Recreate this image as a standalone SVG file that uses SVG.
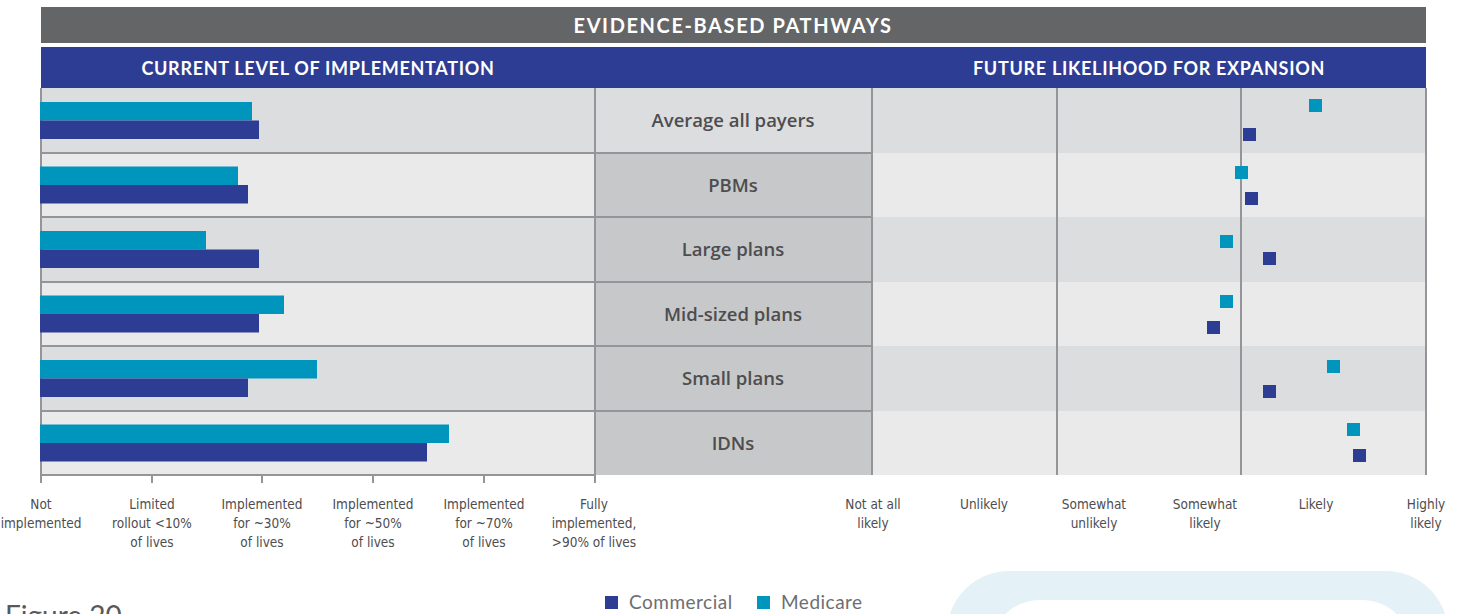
<svg xmlns="http://www.w3.org/2000/svg" width="1462" height="614" viewBox="0 0 1462 614">
<style>
.hdr{font-family:Lato,"Open Sans","Liberation Sans",sans-serif;font-weight:700;fill:#ffffff;text-anchor:middle}
.cat{font-family:"Open Sans",Lato,"Liberation Sans",sans-serif;font-weight:600;font-size:18.5px;fill:#4d4d4f;text-anchor:middle}
.ax{font-family:"DejaVu Sans Condensed","Liberation Sans Narrow","DejaVu Sans",sans-serif;font-size:13.5px;fill:#4d4d4f;text-anchor:middle}
.leg{font-family:Lato,"Open Sans","Liberation Sans",sans-serif;font-size:19px;letter-spacing:0.5px;fill:#6d6e71}
.dark{fill:#dcdddf}
.light{fill:#eaeaea}
.midc{fill:#c7c8ca}
.grid{stroke:#939598;stroke-width:2;fill:none}
.com{fill:#2e3d94}
.med{fill:#0095bd}
</style>
<g id="decor">
<path fill="#e4f1f6" fill-rule="evenodd" d="M1009 571 H1386 A62 62 0 0 1 1448 633 V700 H947 V633 A62 62 0 0 1 1009 571 Z M1040 600 H1362 A50 50 0 0 1 1412 650 V700 H990 V650 A50 50 0 0 1 1040 600 Z"/>
</g>
<g id="title">
<rect x="41" y="7" width="1385" height="36" fill="#646567"/>
<text class="hdr" x="733" y="33" font-size="20" letter-spacing="1.6">EVIDENCE-BASED PATHWAYS</text>
</g>
<g id="subheaders">
<rect x="41" y="47" width="1385" height="41" fill="#2e3d94"/>
<text class="hdr" x="318" y="75" font-size="18" letter-spacing="0.7">CURRENT LEVEL OF IMPLEMENTATION</text>
<text class="hdr" x="1149" y="75" font-size="18" letter-spacing="0.7">FUTURE LIKELIHOOD FOR EXPANSION</text>
</g>
<g id="backgrounds">
<rect class="dark" x="41" y="88" width="554" height="65"/>
<rect class="light" x="41" y="153" width="554" height="64"/>
<rect class="dark" x="41" y="217" width="554" height="65"/>
<rect class="light" x="41" y="282" width="554" height="64"/>
<rect class="dark" x="41" y="346" width="554" height="65"/>
<rect class="light" x="41" y="411" width="554" height="64"/>
<rect class="dark" x="595" y="88" width="277" height="65"/>
<rect class="midc" x="595" y="153" width="277" height="322"/>
<rect class="dark" x="872" y="88" width="554" height="65"/>
<rect class="light" x="872" y="153" width="554" height="64"/>
<rect class="dark" x="872" y="217" width="554" height="65"/>
<rect class="light" x="872" y="282" width="554" height="64"/>
<rect class="dark" x="872" y="346" width="554" height="65"/>
<rect class="light" x="872" y="411" width="554" height="64"/>
</g>
<g id="connectors">
<path class="grid" d="M41 88 V483 M152 475 V483 M262 475 V483 M373 475 V483 M484 475 V483 M595 88 V483 M41 475 H595"/>
<path class="grid" d="M41 153 H872 M41 217 H872 M41 282 H872 M41 346 H872 M41 411 H872"/>
<path class="grid" d="M872 88 V475 M1057 88 V475 M1241 88 V475 M1426 88 V475"/>
</g>
<g id="row-average">
<rect class="med" x="40" y="102" width="212" height="18.5"/>
<rect class="com" x="40" y="120.5" width="219" height="18.5"/>
<text class="cat" x="733" y="127">Average all payers</text>
<rect class="med" x="1309" y="99" width="13" height="13"/>
<rect class="com" x="1243" y="128" width="13" height="13"/>
</g>
<g id="row-pbms">
<rect class="med" x="40" y="166.5" width="198" height="18.5"/>
<rect class="com" x="40" y="185" width="208" height="18.5"/>
<text class="cat" x="733" y="192">PBMs</text>
<rect class="med" x="1235" y="166" width="13" height="13"/>
<rect class="com" x="1245" y="192" width="13" height="13"/>
</g>
<g id="row-large">
<rect class="med" x="40" y="231" width="166" height="18.5"/>
<rect class="com" x="40" y="249.5" width="219" height="18.5"/>
<text class="cat" x="733" y="256">Large plans</text>
<rect class="med" x="1220" y="235" width="13" height="13"/>
<rect class="com" x="1263" y="252" width="13" height="13"/>
</g>
<g id="row-mid">
<rect class="med" x="40" y="295.5" width="244" height="18.5"/>
<rect class="com" x="40" y="314" width="219" height="18.5"/>
<text class="cat" x="733" y="321">Mid-sized plans</text>
<rect class="med" x="1220" y="295" width="13" height="13"/>
<rect class="com" x="1207" y="321" width="13" height="13"/>
</g>
<g id="row-small">
<rect class="med" x="40" y="360" width="277" height="18.5"/>
<rect class="com" x="40" y="378.5" width="208" height="18.5"/>
<text class="cat" x="733" y="385">Small plans</text>
<rect class="med" x="1327" y="360" width="13" height="13"/>
<rect class="com" x="1263" y="385" width="13" height="13"/>
</g>
<g id="row-idns">
<rect class="med" x="40" y="424.5" width="409" height="18.5"/>
<rect class="com" x="40" y="443" width="387" height="18.5"/>
<text class="cat" x="733" y="450">IDNs</text>
<rect class="med" x="1347" y="423" width="13" height="13"/>
<rect class="com" x="1353" y="449" width="13" height="13"/>
</g>
<g id="left-axis-labels">
<text class="ax" x="41" y="509">Not</text>
<text class="ax" x="41" y="528">implemented</text>
<text class="ax" x="152" y="509">Limited</text>
<text class="ax" x="152" y="528">rollout &lt;10%</text>
<text class="ax" x="152" y="547">of lives</text>
<text class="ax" x="262" y="509">Implemented</text>
<text class="ax" x="262" y="528">for ~30%</text>
<text class="ax" x="262" y="547">of lives</text>
<text class="ax" x="373" y="509">Implemented</text>
<text class="ax" x="373" y="528">for ~50%</text>
<text class="ax" x="373" y="547">of lives</text>
<text class="ax" x="484" y="509">Implemented</text>
<text class="ax" x="484" y="528">for ~70%</text>
<text class="ax" x="484" y="547">of lives</text>
<text class="ax" x="594" y="509">Fully</text>
<text class="ax" x="594" y="528">implemented,</text>
<text class="ax" x="594" y="547">&gt;90% of lives</text>
</g>
<g id="right-axis-labels">
<text class="ax" x="873" y="509">Not at all</text>
<text class="ax" x="873" y="528">likely</text>
<text class="ax" x="984" y="509">Unlikely</text>
<text class="ax" x="1094" y="509">Somewhat</text>
<text class="ax" x="1094" y="528">unlikely</text>
<text class="ax" x="1205" y="509">Somewhat</text>
<text class="ax" x="1205" y="528">likely</text>
<text class="ax" x="1316" y="509">Likely</text>
<text class="ax" x="1426" y="509">Highly</text>
<text class="ax" x="1426" y="528">likely</text>
</g>
<g id="legend">
<rect class="com" x="605" y="596" width="13" height="13"/>
<text class="leg" x="629" y="609">Commercial</text>
<rect class="med" x="757" y="596" width="13" height="13"/>
<text class="leg" x="781" y="609">Medicare</text>
</g>
<g id="caption">
<text x="5" y="626" font-family="Lato,'Open Sans','Liberation Sans',sans-serif" font-size="28" fill="#58595b">Figure 20</text>
</g>
</svg>
